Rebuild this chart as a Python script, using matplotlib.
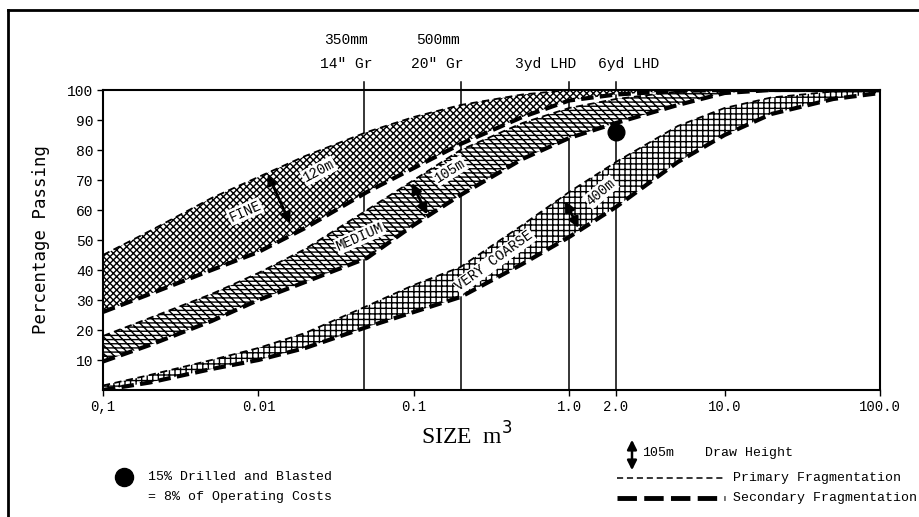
import matplotlib
matplotlib.use('Agg')
import matplotlib.pyplot as plt
from matplotlib.lines import Line2D
import matplotlib.transforms as mtransforms

# ---------------- data ----------------
size = [0.001, 0.002, 0.005, 0.01, 0.02, 0.05, 0.1, 0.2, 0.5, 1, 2, 5, 10, 20, 50, 100]
fine_primary     = [45, 53, 64, 71, 78, 86, 91, 95, 98.5, 100, 100, 100, 100, 100, 100, 100]
fine_secondary   = [26, 32, 40, 46, 54, 66, 74, 82, 91, 96.5, 98.5, 99.7, 100, 100, 100, 100]
medium_primary   = [18, 24, 32, 39, 47, 60, 70, 80, 89, 94, 97, 99.5, 100, 100, 100, 100]
medium_secondary = [9.5, 15, 23, 30, 36, 44, 55, 65, 77, 84, 89, 95, 99, 100, 100, 100]
coarse_primary   = [1.5, 5, 10, 14, 19, 28, 35, 41, 55, 66, 76, 88, 94, 97.5, 99.5, 100]
coarse_secondary = [0, 2.5, 7, 10, 14, 21, 26, 31, 42, 51, 61, 76, 85, 92, 97, 99]

band_names = ['FINE', 'MEDIUM', 'VERY COARSE']
band_heights = ['120m', '105m', '400m']

equip_sizes = [0.048, 0.2, 1.0, 2.0]
equip_line1 = ['350mm', '500mm', '', '']
equip_line2 = ['14" Gr', '20" Gr', '3yd LHD', '6yd LHD']

xtick_vals = [0.001, 0.01, 0.1, 1.0, 2.0, 10.0, 100.0]
xtick_labels = ['0,1', '0.01', '0.1', '1.0', '2.0', '10.0', '100.0']
ytick_vals = [10, 20, 30, 40, 50, 60, 70, 80, 90, 100]

dot_size = [2.0]
dot_pct = [86]

# ---------------- figure ----------------
W, H = 920, 517
fig = plt.figure(figsize=(W / 100, H / 100), dpi=100)
fig.patch.set_facecolor('white')
ax = fig.add_axes([103 / W, 1 - 390 / H, (880 - 103) / W, 300 / H])
ax.set_xscale('log')
ax.set_xlim(0.001, 100)
ax.set_ylim(0, 100)

mono = 'DejaVu Sans Mono'
typ = 'Liberation Mono'
plt.rcParams['hatch.linewidth'] = 1.0

# vertical equipment lines (behind bands)
for xv in equip_sizes:
    ax.plot([xv, xv], [0, 102.7], color='black', lw=1.1, zorder=1, clip_on=False)

# bands
bands = [
    (fine_primary, fine_secondary, 'xxxxx'),
    (medium_primary, medium_secondary, '\\\\\\\\----'),
    (coarse_primary, coarse_secondary, '+++'),
]
for up, lo, hatch in bands:
    ax.fill_between(size, lo, up, facecolor='white', edgecolor='black',
                    hatch=hatch, linewidth=0, zorder=2)
    ax.plot(size, up, color='black', lw=1.3, ls=(0, (4, 2.5)), zorder=3)
    ax.plot(size, lo, color='black', lw=3.0, ls=(0, (3, 1.5)), zorder=3)

# band labels
lab_style = dict(family=typ, fontsize=10, color='black', ha='center', va='center',
                 zorder=5, bbox=dict(facecolor='white', edgecolor='none', pad=0.8))
ax.text(0.0082, 59.5, band_names[0], rotation=24, **lab_style)
ax.text(0.0245, 73, band_heights[0], rotation=28, **lab_style)
ax.text(0.045, 51, band_names[1], rotation=24, **lab_style)
ax.text(0.17, 73, band_heights[1], rotation=32, **lab_style)
ax.text(0.33, 43, band_names[2], rotation=36, **lab_style)
ax.text(1.6, 66, band_heights[2], rotation=40, **lab_style)

arrow_kw = dict(arrowstyle='<|-|>', color='black', lw=2.0, mutation_scale=15,
                shrinkA=0, shrinkB=0)
ax.annotate('', xy=(0.0115, 72), xytext=(0.016, 55.5), arrowprops=arrow_kw, zorder=6)
ax.annotate('', xy=(0.097, 69), xytext=(0.122, 58.5), arrowprops=arrow_kw, zorder=6)
ax.annotate('', xy=(0.94, 63), xytext=(1.15, 54), arrowprops=arrow_kw, zorder=6)

# blasted point
ax.plot(dot_size, dot_pct, 'o', color='black', markersize=12, zorder=7)

# axes styling
for s in ax.spines.values():
    s.set_linewidth(1.5)
    s.set_zorder(8)
ax.set_xticks(xtick_vals)
ax.set_xticklabels(xtick_labels, family=typ, fontsize=10)
ax.xaxis.set_minor_locator(matplotlib.ticker.NullLocator())
ax.set_yticks(ytick_vals)
ax.set_yticklabels([str(v) for v in ytick_vals], family=typ, fontsize=10.5)
ax.tick_params(direction='out', length=4, width=1, pad=3)
ax.set_ylabel('Percentage Passing', family=mono, fontsize=12.5, labelpad=12)

# equipment labels above the plot
trans = mtransforms.blended_transform_factory(ax.transData, ax.transAxes)
offsets = [-18, -23, -24, 13]
for xv, l1, l2, dx in zip(equip_sizes, equip_line1, equip_line2, offsets):
    if l1:
        ax.annotate(l1, xy=(xv, 1), xycoords=trans, xytext=(dx, 50),
                    textcoords='offset pixels', ha='center', va='center',
                    family=typ, fontsize=10.5)
    ax.annotate(l2, xy=(xv, 1), xycoords=trans, xytext=(dx, 26),
                textcoords='offset pixels', ha='center', va='center',
                family=typ, fontsize=10.5)

# x axis title
fig.text(467 / W, 1 - 436 / H, 'SIZE  m$^3$', family='Liberation Serif',
         fontsize=17, ha='center', va='center')

# outer frame (partial)
fig.add_artist(Line2D([8 / W, 8 / W], [0, 1 - 10 / H], color='black', lw=2,
                      transform=fig.transFigure))
fig.add_artist(Line2D([8 / W, 1], [1 - 10 / H, 1 - 10 / H], color='black', lw=2,
                      transform=fig.transFigure))

# bottom-left key
fig.add_artist(Line2D([124 / W], [1 - 477 / H], marker='o', color='black',
                      markersize=13, transform=fig.transFigure))
fig.text(148 / W, 1 - 477 / H, '15% Drilled and Blasted', family=typ,
         fontsize=9.5, va='center', ha='left')
fig.text(148 / W, 1 - 497 / H, '= 8% of Operating Costs', family=typ,
         fontsize=9.5, va='center', ha='left')

# bottom-right key
fig.add_artist(matplotlib.patches.FancyArrowPatch(
    (632 / W, 1 - 437 / H), (632 / W, 1 - 473 / H), transform=fig.transFigure,
    arrowstyle='<|-|>', mutation_scale=14, color='black', lw=1.8))
fig.text(642 / W, 1 - 453 / H, '105m', family=typ, fontsize=9.5, va='center')
fig.text(705 / W, 1 - 453 / H, 'Draw Height', family=typ, fontsize=9.5, va='center')
fig.add_artist(Line2D([617 / W, 725 / W], [1 - 478 / H, 1 - 478 / H], color='black',
                      lw=1.1, ls=(0, (4, 2.5)), transform=fig.transFigure))
fig.text(733 / W, 1 - 478 / H, 'Primary Fragmentation', family=typ, fontsize=9.5,
         va='center')
fig.add_artist(Line2D([617 / W, 725 / W], [1 - 498 / H, 1 - 498 / H], color='black',
                      lw=3.5, ls=(0, (4, 1.5)), transform=fig.transFigure))
fig.text(733 / W, 1 - 498 / H, 'Secondary Fragmentation', family=typ, fontsize=9.5,
         va='center')

fig.savefig('out.png', dpi=100)
